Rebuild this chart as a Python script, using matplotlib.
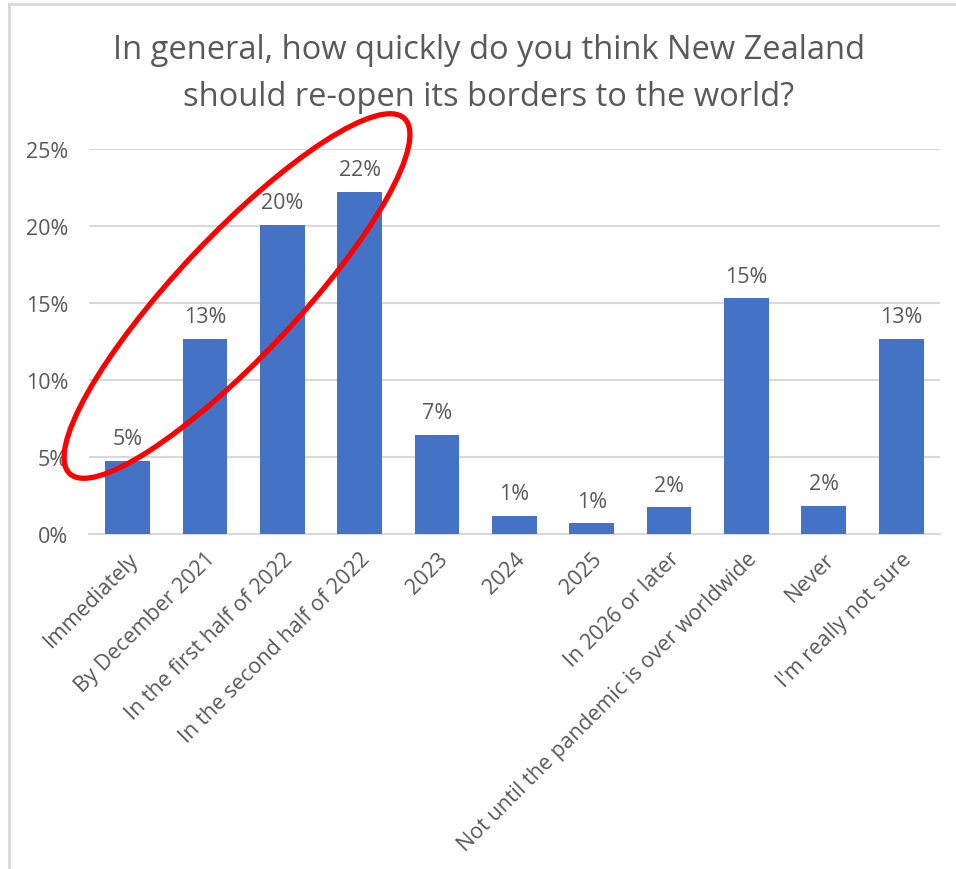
import matplotlib.pyplot as plt
from matplotlib.patches import Ellipse
from matplotlib.lines import Line2D

categories = ['Immediately', 'By December 2021', 'In the first half of 2022',
              'In the second half of 2022', '2023', '2024', '2025', 'In 2026 or later',
              'Not until the pandemic is over worldwide', 'Never', "I'm really not sure"]
values = [4.75, 12.65, 20.05, 22.2, 6.45, 1.2, 0.7, 1.75, 15.3, 1.85, 12.65]
labels = ['5%', '13%', '20%', '22%', '7%', '1%', '1%', '2%', '15%', '2%', '13%']
yticks = [0, 5, 10, 15, 20, 25]
title_lines = ['In general, how quickly do you think New Zealand',
               'should re-open its borders to the world?']

txt = '#595959'
plt.rcParams['font.family'] = ['Open Sans', 'DejaVu Sans']

fig = plt.figure(figsize=(9.56, 8.7), dpi=100)
ax = fig.add_axes([0.093, 0.385, 0.890, 0.443])

x = range(len(categories))
ax.bar(x, values, width=0.58, color='#4472C4', zorder=3)
for i, v in enumerate(values):
    ax.text(i, v + 0.75, labels[i], ha='center', va='bottom', fontsize=15.5, color=txt)

ax.set_xlim(-0.5, len(categories) - 0.5)
ax.set_ylim(0, 25)
ax.set_yticks(yticks)
ax.set_yticklabels([f'{t}%' for t in yticks], fontsize=15.5, color=txt)
ax.set_xticks(list(x))
ax.set_xticklabels(categories, rotation=45, ha='right', rotation_mode='anchor',
                   fontsize=15.5, color=txt)
ax.tick_params(length=0, pad=10)
ax.tick_params(axis='y', pad=15)
ax.grid(axis='y', color='#d9d9d9', lw=1.5, zorder=0)
for s in ['top', 'right', 'left']:
    ax.spines[s].set_visible(False)
ax.spines['bottom'].set_color('#d9d9d9')
ax.spines['bottom'].set_linewidth(1.5)

# two-line title
fig.text(0.511, 0.9425, title_lines[0], ha='center', va='center', fontsize=23.5, color=txt)
fig.text(0.511, 0.8885, title_lines[1], ha='center', va='center', fontsize=23.5, color=txt)

# red ellipse annotation
ell = Ellipse((2.37, 5.73), 4.88, 1.2, angle=46.7, fill=False, edgecolor='#FF0000',
              lw=3.8, transform=fig.dpi_scale_trans, zorder=10)
fig.add_artist(ell)

# chart border (top and left visible)
fig.add_artist(Line2D([0.009, 1], [0.994, 0.994], color='#d9d9d9', lw=2, transform=fig.transFigure))
fig.add_artist(Line2D([0.009, 0.009], [0, 0.994], color='#d9d9d9', lw=2, transform=fig.transFigure))

fig.savefig('out.png', dpi=100)
